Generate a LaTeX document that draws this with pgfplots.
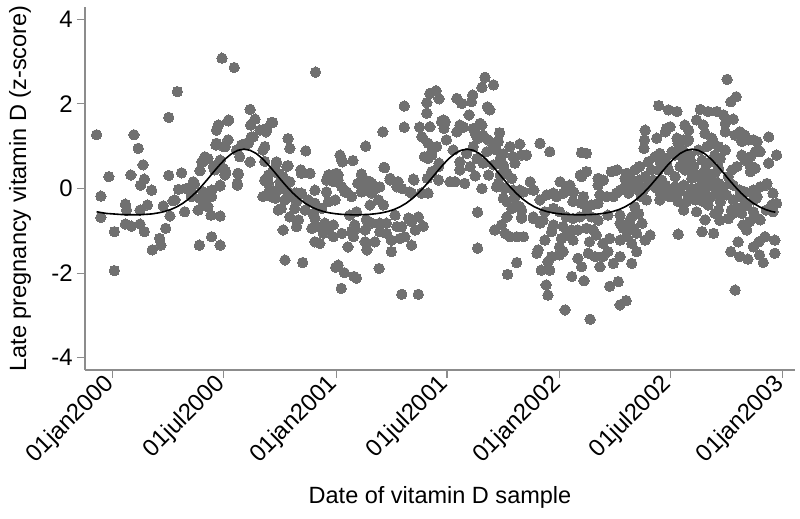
\documentclass[border=0pt]{standalone}
\usepackage{fontspec}
\setmainfont{Liberation Sans}
\usepackage{pgfplots}
\pgfplotsset{compat=1.18}
\definecolor{ptgray}{RGB}{112,112,112}
\definecolor{axgray}{RGB}{140,140,140}
\begin{document}
\begin{tikzpicture}
\begin{axis}[
  at={(0,0)}, anchor=south west,
  scale only axis, width=355bp, height=181.5bp,
  xmin=-45, xmax=1116, ymin=-4.29, ymax=4.29,
  axis x line*=bottom, axis y line*=left,
  axis line style={draw=axgray, line width=0.6bp, -},
  tick style={draw=axgray, line width=0.6bp},
  tick align=outside, major tick length=4bp,
  xtick={0,182,366,547,731,912,1096},
  xticklabels={01jan2000,01jul2000,01jan2001,01jul2001,01jan2002,01jul2002,01jan2003},
  ytick={-4,-2,0,2,4},
  /pgf/number format/assume math mode=true,
  ticklabel style={font=\fontsize{12}{14}\selectfont, text=black},
  xticklabel style={rotate=45, anchor=east, inner sep=1.5bp},
  yticklabel style={anchor=east, inner sep=2bp},
  xlabel={Date of vitamin D sample},
  ylabel={Late pregnancy vitamin D (z-score)},
  label style={font=\fontsize{11.8}{14}\selectfont},
  xlabel style={at={(axis description cs:0.5,-0.35)}, anchor=center},
  ylabel style={at={(axis description cs:-0.0915,0.5)}, anchor=center},
  clip=false, clip marker paths=true,
]
\addplot[only marks, mark=*, mark size=2.6bp, mark options={fill=ptgray, draw=ptgray, line width=0pt}] coordinates {
(179,3.08) (199,2.86) (106,2.29) (92,1.68) (-26,1.27) (35,1.27) (42,0.95) (50,0.56) (-6,0.28) (30,0.32) (52,0.22) (46,0.08) (64,-0.04) (-19,-0.18) (92,0.31) (113,0.37) (21,-0.37) (23,-0.51) (45,-0.51) (57,-0.39) (83,-0.41) (-19,-0.68) (21,-0.84) (31,-0.89) (45,-0.84) (52,-1.02) (3,-1.02) (87,-0.94) (94,-0.65) (77,-1.18) (79,-1.34) (65,-1.45) (3,-1.94) (142,-1.34) (162,-1.14) (176,-1.34) (108,-0.02) (121,0.00) (134,0.11) (102,-0.27) (118,-0.55) (129,-0.19) (143,-0.23) (148,-0.39) (140,-0.51) (162,-0.19) (161,-0.63) (176,-0.65) (156,-0.43) (143,0.42) (148,0.63) (156,0.71) (167,0.44) (176,0.67) (181,0.48) (184,0.32) (176,0.06) (162,-0.04) (151,-0.18) (206,0.34) (204,0.08) (170,1.07) (170,1.38) (173,1.50) (189,1.60) (189,1.15) (184,0.99) (203,0.91) (211,1.03) (222,1.07) (225,0.63) (227,1.22) (225,1.87) (233,1.64) (241,1.38) (226,1.50) (249,0.20) (246,0.91) (246,-0.19)
(190,1.62) (262,1.56) (251,1.34) (287,1.18) (290,0.95) (249,0.99) (169,1.03) (181,0.99) (219,1.07) (230,1.22) (151,0.75) (146,0.63) (165,0.52) (185,0.40) (205,0.36) (204,0.12) (208,0.75) (268,0.60) (252,0.16) (271,0.36) (285,0.52) (290,0.16) (298,-0.11) (132,0.16) (129,-0.10) (148,-0.08) (176,0.08)
(99,-0.29) (282,-1.69) (279,-0.98) (311,-1.75)
(332,2.75) (316,0.89) (287,0.54) (372,0.79) (375,0.67) (393,0.66) (414,1.00) (442,1.34) (477,1.95) (477,1.45) (445,0.49) (493,0.20) (514,2.03) (514,1.78) (519,2.25) (529,2.31) (534,2.12) (502,1.45) (519,1.46) (506,1.22) (541,1.62) (542,1.42) (522,0.79) (530,0.99) (516,0.71) (534,0.60) (522,0.36) (546,1.15)
(309,0.36) (323,0.36) (353,0.32) (369,0.32) (361,0.16) (407,0.34) (421,0.16) (405,0.16) (454,0.20) (467,0.16) (473,0.00) (437,0.04) (383,-0.08) (331,-0.04) (287,0.16)
(538,1.58) (516,1.07) (510,0.75) (522,0.87) (533,0.52) (522,0.40) (515,0.24) (533,0.20) (516,-0.11) (505,-0.11) (486,-0.08) (492,0.22) (465,0.04) (454,0.24) (444,0.50) (424,0.12) (401,0.12) (413,-0.04) (424,-0.11) (435,-0.27) (421,-0.39) (388,-0.63) (391,-0.19) (380,-0.08) (369,0.20) (366,0.36) (355,0.32) (376,0.63) (350,-0.08) (353,-0.31) (364,-0.27) (308,0.44) (260,1.56) (252,1.42) (268,0.63) (255,0.32) (274,0.16) (257,-0.04) (285,-0.04) (266,-0.23) (282,-0.27) (276,-0.47) (298,-0.47) (304,-0.74) (331,-0.70) (336,-0.90) (347,-0.82) (361,-0.86) (361,-1.14) (375,-1.06) (331,-1.26) (339,-1.30) (396,-0.86) (394,-1.14) (385,-1.38) (413,-1.26) (429,-1.26) (416,-1.45) (437,-1.02) (448,-1.06) (456,-1.22) (456,-1.49) (473,-0.90) (478,-1.14) (489,-1.34) (484,-0.70) (500,-0.67) (508,-0.89) (462,-0.63) (424,-0.82) (369,-1.81) (379,-1.99) (395,-2.08) (374,-2.36) (436,-1.89) (473,-2.50) (500,-2.50) (365,-1.86) (399,-2.12)
(249,0.64) (263,0.44) (279,0.28) (255,0.12) (271,-0.03) (260,-0.19) (290,-0.19) (301,-0.31) (309,-0.11) (320,-0.27) (315,-0.51) (342,-0.47) (331,-0.35) (350,0.20) (375,0.04) (413,0.20) (429,0.00) (443,-0.39) (448,-0.82) (465,-0.90) (489,-0.78) (495,-0.98) (470,-1.18) (437,-0.82) (413,-0.98) (391,-1.02) (345,-1.06) (353,-0.94) (326,-0.94) (301,-0.90) (290,-0.67) (271,-0.51)
(328,-0.59) (396,-0.98) (415,-0.74) (399,-0.55) (407,-0.08) (301,-0.11) (489,-0.11)
(563,2.13) (571,2.01) (589,2.21) (587,2.05) (583,1.74) (609,2.63) (604,2.39) (623,2.45) (613,1.93) (617,1.86) (568,1.50) (563,1.34) (590,1.42) (604,1.50) (596,1.22) (606,1.26) (614,1.15) (623,0.99) (633,1.32) (631,1.11) (634,0.71) (650,0.99) (655,0.75) (666,1.05) (669,0.79) (677,0.79) (658,0.60) (639,0.52) (606,0.60) (579,0.83) (557,0.91) (576,0.12) (604,0.00) (645,0.36) (628,0.04) (683,0.16) (689,-0.04) (699,1.07) (568,0.44)
(544,1.58) (574,1.45) (601,1.54) (593,1.32) (625,1.07) (598,1.19) (590,0.99) (612,0.87) (628,0.91) (639,0.82) (715,0.87) (775,0.83) (568,0.63) (585,0.52) (596,0.71) (623,0.56) (639,0.56) (634,0.32) (653,0.24) (552,0.16) (560,0.16) (593,0.30) (615,0.32) (631,0.12) (642,0.00) (666,-0.04) (639,-0.23) (658,-0.19) (645,-0.31) (661,-0.39) (653,-0.47) (669,-0.51) (669,-0.70) (645,-0.67) (636,-0.86) (642,-1.06) (767,0.28) (775,0.40) (794,0.24) (816,0.40) (825,0.44)
(655,-0.04) (666,-0.43) (625,-0.98) (650,-1.14) (661,-1.14) (688,-0.67) (597,-0.56) (597,-1.41) (661,-1.75) (646,-2.03) (694,-1.53)
(672,-0.08) (688,-0.04) (699,-0.27) (710,-0.15) (726,-0.19) (737,-0.11) (748,-0.04) (753,-0.31) (767,-0.35) (775,-0.43) (783,-0.39) (794,-0.35) (808,-0.19) (824,-0.11) (731,-0.55) (742,-0.67) (753,-0.71) (764,-0.67) (775,-0.59) (783,-0.67) (794,-0.75) (810,-0.63) (830,-0.63) (721,-0.47) (707,-0.55) (704,-0.75) (688,-0.71) (669,-0.67) (672,-1.14) (699,-0.82) (721,-0.86) (718,-1.02) (737,-0.90) (742,-1.10) (734,-1.18) (751,-0.98) (761,-0.98) (775,-0.94) (786,-0.98) (791,-1.10) (780,-1.26) (753,-1.22) (731,-1.38) (707,-1.22) (802,-1.30) (813,-1.18) (830,-1.22) (810,-1.49) (802,-1.61) (797,-1.85) (819,-1.77) (830,-1.61) (778,-1.53) (789,-1.61) (761,-1.65) (767,-1.85) (731,-1.57) (718,-1.61) (712,-1.73) (737,-1.49) (696,-1.45) (830,-0.82) (835,-0.94)
(701,-1.93) (715,-1.93) (709,-2.28) (712,-2.52) (740,-2.87) (781,-3.09) (751,-2.08) (771,-2.18) (827,-2.20) (813,-2.31) (830,-2.75) (840,-2.65)
(721,-0.11) (743,0.04) (770,-0.19) (797,-0.15) (819,-0.19) (830,-0.04) (732,0.16) (748,0.08) (754,-0.08) (765,0.32) (767,0.85) (794,0.08) (803,0.20)
(860,-0.04) (844,-0.11) (854,-0.43) (849,-0.67) (860,-0.59) (866,-0.82) (844,-0.98) (857,-1.06) (871,-1.22) (879,-1.10) (849,-1.30) (857,-1.49) (849,-1.77) (890,0.00) (901,-0.11) (915,-0.19) (925,-0.31) (942,-0.15) (955,-0.08) (969,-0.15) (972,0.04) (934,0.08) (925,-1.08) (964,-1.02) (983,-1.06) (955,-0.55) (934,-0.51) (969,-0.74) (985,-0.59) (865,-0.19) (876,0.08) (920,0.04) (904,0.08) (928,-0.07) (947,0.00) (966,-0.31) (980,-0.19) (953,-0.27) (939,-0.31) (994,-0.31) (974,-0.39) (991,-0.51)
(873,-0.27) (846,-0.75) (851,-0.94) (840,-1.14) (895,-0.27) (906,-0.08) (922,-0.04) (982,0.08) (998,-0.11) (993,-0.75) (857,0.04) (868,-0.04) (840,-0.04)
(841,0.12) (846,0.28) (862,0.20) (882,0.08) (895,-0.08) (911,-0.19) (950,-0.11) (960,0.04) (988,-0.04) (999,0.04) (1015,0.08) (1026,-0.19) (1048,-0.04) (1059,0.04)
(1015,-0.59) (1023,-0.47) (1029,-0.59) (1037,-0.39) (1048,-0.27) (1048,-0.55) (1056,-0.71) (1069,-0.51) (1078,-0.39) (1080,-0.11) (1015,-0.27) (1026,-0.04) (1034,-0.08) (1048,-0.15) (1031,-0.86) (1042,-0.78) (1037,-0.98) (1023,-1.26) (1057,-1.26) (1048,-1.38) (1058,-1.57) (1067,-1.14) (1083,-1.22) (1083,-1.53) (1064,-1.75) (1039,-1.67) (1026,-1.61) (1011,-1.49) (1018,-2.40) (1012,-0.51) (1053,-0.23) (1080,-0.55) (1069,0.08) (1004,-0.15) (1007,-0.71)
(1086,-0.35) (1054,-0.19) (1034,-0.35) (1059,-0.74) (1070,0.12)
(1005,2.58) (1011,2.05) (1020,2.17) (893,1.96) (909,1.86) (923,1.82) (961,1.87) (974,1.82) (988,1.82) (999,1.74) (1015,1.64) (955,1.62) (966,1.50) (936,1.50) (942,1.38) (912,1.46) (904,1.34) (890,1.19) (871,1.38) (870,1.15) (869,0.95) (923,1.19) (939,1.11) (969,1.30) (980,1.19) (1002,1.54) (1002,1.34) (1018,1.26) (1026,1.34) (1034,1.26) (1040,1.15) (1054,1.11) (1056,0.91) (1073,1.22) (1086,0.79) (1073,0.60) (1029,0.79) (1034,0.67) (1051,0.48) (1043,0.40) (1021,0.52) (1002,0.91) (994,0.71) (991,0.48) (1013,0.44) (1007,0.28)
(838,0.24) (849,0.20) (854,0.44) (862,0.52) (876,0.63) (887,0.75) (895,0.83) (904,0.71) (915,0.87) (925,0.91) (934,0.67) (944,0.79) (950,0.52) (964,0.67) (978,0.63) (985,0.36) (980,0.20) (964,0.12) (947,0.24) (920,0.28) (909,0.44) (898,0.20) (991,0.12) (985,0.79) (958,0.91) (972,0.99) (991,0.99) (936,0.44) (881,0.44) (871,0.28) (884,0.20) (893,0.44) (906,0.56) (928,0.52) (942,0.44) (953,0.28) (969,0.44) (974,0.28) (961,0.32) (1010,0.12)
(906,1.42) (841,0.36) (896,0.60) (920,0.79) (934,0.87) (939,0.75) (945,0.67) (925,1.07) (934,1.15) (942,1.15) (983,1.07) (1029,1.11) (1048,1.15) (1051,0.87) (1059,0.87) (1043,0.75) (1043,0.52)
};
\addplot[black, line width=0.8bp] coordinates {
(-26,-0.55) (-10,-0.59) (0,-0.60) (20,-0.62) (45,-0.62) (65,-0.60) (75,-0.576) (85,-0.544) (95,-0.498) (105,-0.434) (115,-0.349) (125,-0.241) (135,-0.109) (145,0.044) (155,0.211) (165,0.386) (175,0.556) (185,0.707) (195,0.827) (205,0.903) (215,0.93) (225,0.903) (235,0.827) (245,0.707) (255,0.556) (265,0.386) (275,0.211) (285,0.044) (295,-0.109) (305,-0.241) (315,-0.349) (325,-0.434) (335,-0.498) (345,-0.544) (355,-0.576) (365,-0.597) (375,-0.611) (397,-0.625) (420,-0.611) (430,-0.597) (440,-0.576) (450,-0.544) (460,-0.498) (470,-0.434) (480,-0.349) (490,-0.241) (500,-0.109) (510,0.044) (520,0.211) (530,0.386) (540,0.556) (550,0.707) (560,0.827) (570,0.903) (580,0.93) (590,0.903) (600,0.827) (610,0.707) (620,0.556) (630,0.386) (640,0.211) (650,0.044) (660,-0.109) (670,-0.241) (680,-0.349) (690,-0.434) (700,-0.498) (710,-0.544) (720,-0.576) (730,-0.597) (740,-0.611) (764,-0.625) (788,-0.611) (798,-0.597) (808,-0.576) (818,-0.544) (828,-0.498) (838,-0.434) (848,-0.349) (858,-0.241) (868,-0.109) (878,0.044) (888,0.211) (898,0.386) (908,0.556) (918,0.707) (928,0.827) (938,0.903) (948,0.93) (958,0.903) (968,0.827) (978,0.707) (988,0.556) (998,0.386) (1008,0.211) (1018,0.044) (1028,-0.109) (1038,-0.241) (1048,-0.349) (1058,-0.434) (1068,-0.498) (1078,-0.544) (1084,-0.56)
};
\end{axis}
\pgfresetboundingbox
\path[use as bounding box] (-42.5bp,-74.5bp) rectangle (357.5bp,185bp);
\end{tikzpicture}
\end{document}
